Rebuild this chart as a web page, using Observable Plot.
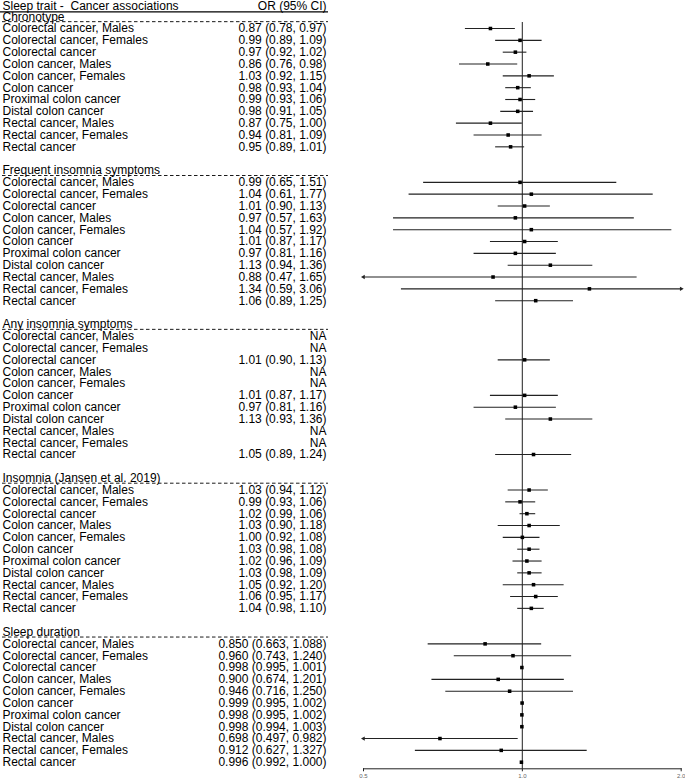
<!DOCTYPE html>
<html><head><meta charset="utf-8">
<script src="https://cdn.jsdelivr.net/npm/d3@7"></script>
<script src="https://cdn.jsdelivr.net/npm/@observablehq/plot@0.6"></script>
<style>html,body{margin:0;padding:0;background:#fff} svg{display:block}</style>
</head><body><div id="chart"></div>
<script>
const titleLeft = "Sleep trait -  Cancer associations";
const titleRight = "OR (95% CI)";
const outcomes = ["Colorectal cancer, Males","Colorectal cancer, Females","Colorectal cancer","Colon cancer, Males","Colon cancer, Females","Colon cancer","Proximal colon cancer","Distal colon cancer","Rectal cancer, Males","Rectal cancer, Females","Rectal cancer"];
const traits = ["Chronotype","Frequent insomnia symptoms","Any insomnia symptoms","Insomnia (Jansen et al. 2019)","Sleep duration"];
const digits = [2,2,2,2,3];

const chronoOR = [0.87,0.99,0.97,0.86,1.03,0.98,0.99,0.98,0.87,0.94,0.95];
const chronoLo = [0.78,0.89,0.92,0.76,0.92,0.93,0.93,0.91,0.75,0.81,0.89];
const chronoHi = [0.97,1.09,1.02,0.98,1.15,1.04,1.06,1.05,1.00,1.09,1.01];

const freqOR = [0.99,1.04,1.01,0.97,1.04,1.01,0.97,1.13,0.88,1.34,1.06];
const freqLo = [0.65,0.61,0.90,0.57,0.57,0.87,0.81,0.94,0.47,0.59,0.89];
const freqHi = [1.51,1.77,1.13,1.63,1.92,1.17,1.16,1.36,1.65,3.06,1.25];

const anyOR = [null,null,1.01,null,null,1.01,0.97,1.13,null,null,1.05];
const anyLo = [null,null,0.90,null,null,0.87,0.81,0.93,null,null,0.89];
const anyHi = [null,null,1.13,null,null,1.17,1.16,1.36,null,null,1.24];

const jansenOR = [1.03,0.99,1.02,1.03,1.00,1.03,1.02,1.03,1.05,1.06,1.04];
const jansenLo = [0.94,0.93,0.99,0.90,0.92,0.98,0.96,0.98,0.92,0.95,0.98];
const jansenHi = [1.12,1.06,1.06,1.18,1.08,1.08,1.09,1.09,1.20,1.17,1.10];

const durOR = [0.850,0.960,0.998,0.900,0.946,0.999,0.998,0.998,0.698,0.912,0.996];
const durLo = [0.663,0.743,0.995,0.674,0.716,0.995,0.995,0.994,0.497,0.627,0.992];
const durHi = [1.088,1.240,1.001,1.201,1.250,1.002,1.002,1.003,0.982,1.327,1.000];

const xTicks = [0.5, 1, 2];

const orSets = [chronoOR, freqOR, anyOR, jansenOR, durOR];
const loSets = [chronoLo, freqLo, anyLo, jansenLo, durLo];
const hiSets = [chronoHi, freqHi, anyHi, jansenHi, durHi];

const rows = [], headers = [];
traits.forEach((t, k) => {
  const h = 1 + 13 * k;
  headers.push({row: h, label: t});
  const f = d3.format(`.${digits[k]}f`);
  outcomes.forEach((o, j) => {
    const or = orSets[k][j], lo = loSets[k][j], hi = hiSets[k][j];
    rows.push({row: h + 1 + j, label: o, or, lo, hi,
      text: or == null ? "NA" : `${f(or)} (${f(lo)}, ${f(hi)})`});
  });
});
const xMin = xTicks[0], xMax = xTicks[xTicks.length - 1];
const est = rows.filter(d => d.or != null);
const clamp = v => Math.max(xMin, Math.min(xMax, v));
const lastRow = d3.max(rows, d => d.row);

const font = "'Liberation Sans', Arial, Helvetica, sans-serif";
const textX = 2, colRight = 326, lineRight = 328;

const decorations = (index, scales) => {
  const y = scales.y;
  const g = d3.create("svg:g");
  g.append("line").attr("x1", 0).attr("x2", lineRight)
    .attr("y1", y(0) + 7.5).attr("y2", y(0) + 7.5)
    .attr("stroke", "#000").attr("stroke-width", 1.3);
  headers.forEach(h => {
    g.append("line").attr("x1", textX).attr("x2", lineRight)
      .attr("y1", y(h.row) + 5.5).attr("y2", y(h.row) + 5.5)
      .attr("stroke", "#000").attr("stroke-width", 0.9)
      .attr("stroke-dasharray", "3.5,2.5");
  });
  return g.node();
};

const marginLeft = 363, width = 685, height = 781;
const chart = Plot.plot({
  width, height,
  marginLeft, marginRight: 4.3, marginTop: 22, marginBottom: 12.7,
  style: {fontFamily: font, background: "white", color: "#000"},
  x: {type: "log", domain: [xMin, xMax], label: null},
  y: {type: "linear", domain: [0, lastRow], range: [4.33, 4.33 + lastRow * 11.834], axis: null},
  marks: [
    decorations,
    Plot.ruleX([1], {stroke: "#444", strokeWidth: 1.2}),
    Plot.frame({anchor: "bottom", stroke: "#222", strokeWidth: 1}),
    Plot.axisX({ticks: xTicks, tickFormat: d3.format(".1f"), tickSize: 3, tickPadding: 2, fontSize: 6, color: "#666", stroke: "#222", label: null}),
    Plot.ruleY(est, {y: "row", x1: d => clamp(d.lo), x2: d => clamp(d.hi), stroke: "#222", strokeWidth: 1.1}),
    Plot.dot(est.filter(d => d.lo < xMin), {x: d => clamp(d.lo), y: "row", symbol: "triangle", rotate: -90, r: 1.6, fill: "#222", stroke: null}),
    Plot.dot(est.filter(d => d.hi > xMax), {x: d => clamp(d.hi), y: "row", symbol: "triangle", rotate: 90, r: 1.6, fill: "#222", stroke: null}),
    Plot.dot(est, {x: "or", y: "row", symbol: "square", r: 2, fill: "#000", stroke: null}),
    Plot.text([titleLeft], {y: () => 0, text: d => d, frameAnchor: "left", dx: textX - marginLeft, dy: 1.5, textAnchor: "start", fontSize: 12, fill: "#000"}),
    Plot.text([titleRight], {y: () => 0, text: d => d, frameAnchor: "left", dx: colRight - marginLeft, dy: 1.5, textAnchor: "end", fontSize: 12, fill: "#000"}),
    Plot.text(headers, {y: "row", text: "label", frameAnchor: "left", dx: textX - marginLeft, textAnchor: "start", fontSize: 12, fill: "#000"}),
    Plot.text(rows, {y: "row", text: "label", frameAnchor: "left", dx: textX - marginLeft, textAnchor: "start", fontSize: 12, fill: "#000"}),
    Plot.text(rows, {y: "row", text: "text", frameAnchor: "left", dx: colRight - marginLeft, textAnchor: "end", fontSize: 12, fill: "#000"})
  ]
});
document.getElementById("chart").appendChild(chart);
</script>
</body></html>
